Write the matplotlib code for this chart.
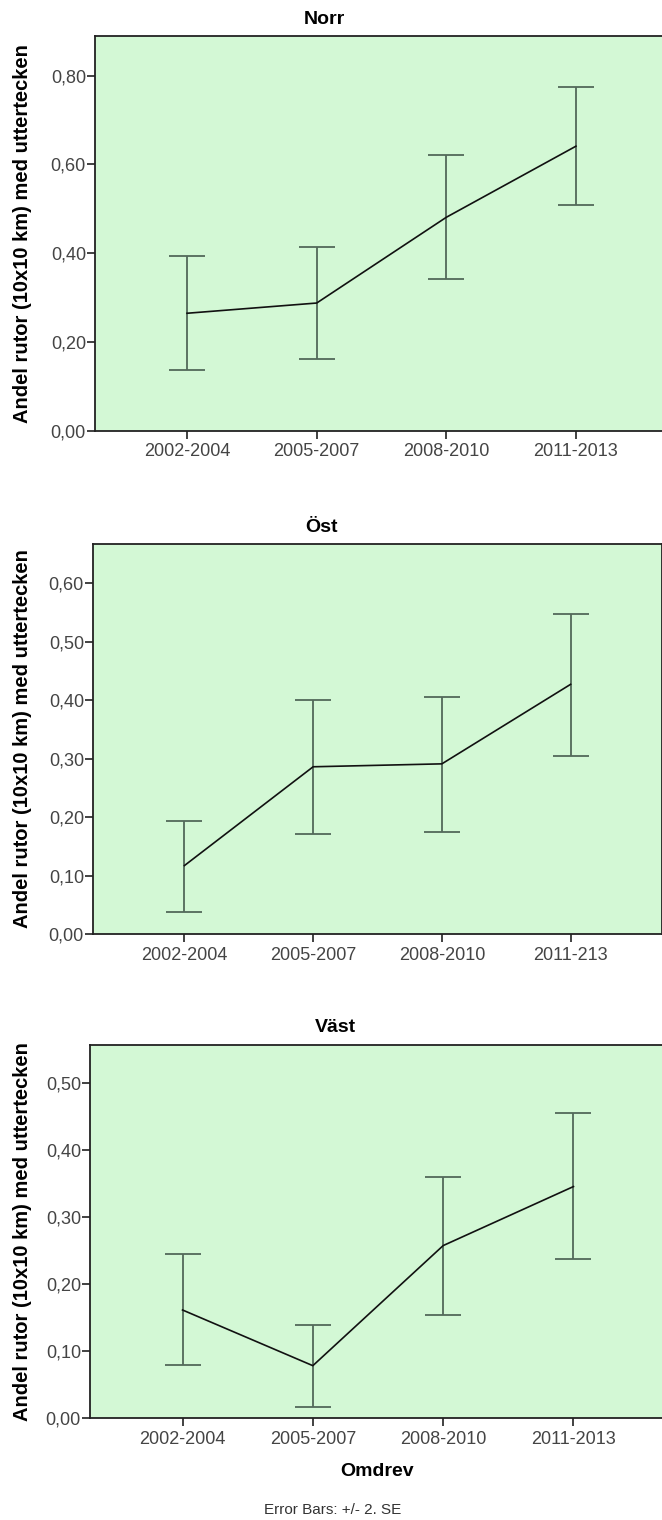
import matplotlib
matplotlib.use("Agg")
import matplotlib.pyplot as plt
from matplotlib.ticker import FixedLocator, FuncFormatter

plt.rcParams['font.family'] = ['Liberation Sans', 'DejaVu Sans']

periods = ["2002-2004", "2005-2007", "2008-2010", "2011-2013"]
periods_ost = ["2002-2004", "2005-2007", "2008-2010", "2011-213"]

norr_mean = [0.265, 0.288, 0.481, 0.641]
norr_low = [0.137, 0.161, 0.341, 0.508]
norr_high = [0.393, 0.415, 0.621, 0.775]

ost_mean = [0.117, 0.286, 0.291, 0.427]
ost_low = [0.038, 0.171, 0.174, 0.305]
ost_high = [0.193, 0.401, 0.406, 0.548]

vast_mean = [0.161, 0.078, 0.257, 0.345]
vast_low = [0.079, 0.016, 0.154, 0.237]
vast_high = [0.245, 0.139, 0.359, 0.454]

panels = [
    ("Norr", periods, norr_mean, norr_low, norr_high, 0.889, [0.0, 0.2, 0.4, 0.6, 0.8]),
    ("Öst", periods_ost, ost_mean, ost_low, ost_high, 0.667, [0.0, 0.1, 0.2, 0.3, 0.4, 0.5, 0.6]),
    ("Väst", periods, vast_mean, vast_low, vast_high, 0.556, [0.0, 0.1, 0.2, 0.3, 0.4, 0.5]),
]

W, H = 662, 1520
fig = plt.figure(figsize=(W / 100, H / 100), dpi=100)

# axes boxes in pixels: left, top, right, bottom; plus title centre x
boxes = [(95, 36, 668, 431, 324), (93, 544, 662, 934, 321), (90, 1045, 666, 1418, 335)]

bg = "#d3f8d5"
bar_color = "#52695a"
ylabel = "Andel rutor (10x10 km) med uttertecken"

for (title, labels, mean, low, high, ytop, yticks), (l, t, r, b, tx) in zip(panels, boxes):
    ax = fig.add_axes([l / W, 1 - b / H, (r - l) / W, (b - t) / H])
    ax.set_facecolor(bg)
    x = list(range(len(labels)))
    yerr = [[m - lo for m, lo in zip(mean, low)], [hi - m for m, hi in zip(mean, high)]]
    ax.errorbar(x, mean, yerr=yerr, fmt="none", ecolor=bar_color, elinewidth=1.3,
                capsize=13, capthick=1.3, zorder=2)
    ax.plot(x, mean, color="#111111", lw=1.2, zorder=3)
    ax.set_xlim(-0.71, 3.71)
    ax.set_ylim(0, ytop)
    ax.set_xticks(x)
    ax.set_xticklabels(labels)
    ax.yaxis.set_major_locator(FixedLocator(yticks))
    ax.yaxis.set_major_formatter(FuncFormatter(lambda v, p: f"{v:.2f}".replace(".", ",")))
    ax.tick_params(axis="both", direction="out", length=6, width=1.3, color="#333333",
                   labelsize=13, labelcolor="#444444", pad=0.5)
    ax.tick_params(axis="x", pad=3)
    for s in ax.spines.values():
        s.set_color("#222222")
        s.set_linewidth(1.3)
    fig.text(tx / W, 1 - (t - 17) / H, title, ha="center", va="center",
             fontsize=14, fontweight="bold")
    fig.text(23 / W, 1 - ((t + b) / 2) / H, ylabel, rotation=90, ha="center", va="center",
             fontsize=14.5, fontweight="bold")

fig.text(377 / W, 1 - 1471 / H, "Omdrev", ha="center", va="center", fontsize=14, fontweight="bold")
fig.text(333 / W, 1 - 1510 / H, "Error Bars: +/- 2. SE", ha="center", va="center",
         fontsize=11, color="#333333")

fig.savefig("out.png", dpi=100, facecolor="white")
